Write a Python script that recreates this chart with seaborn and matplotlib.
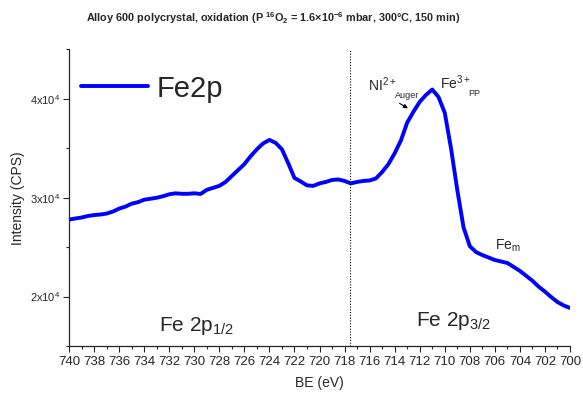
import numpy as np
import pandas as pd
import matplotlib
matplotlib.use("Agg")
import matplotlib.pyplot as plt
from matplotlib.ticker import MultipleLocator, FuncFormatter
import seaborn as sns

# =========================
# DATA
# =========================
be = [740.0, 739.5, 739.0, 738.5, 738.0, 737.5, 737.0, 736.5, 736.0, 735.5,
      735.0, 734.5, 734.0, 733.5, 733.0, 732.5, 732.0, 731.5, 731.0, 730.5,
      730.0, 729.5, 729.0, 728.5, 728.0, 727.5, 727.0, 726.5, 726.0, 725.5,
      725.0, 724.5, 724.0, 723.5, 723.0, 722.5, 722.0, 721.5, 721.0, 720.5,
      720.0, 719.5, 719.0, 718.5, 718.0, 717.5, 717.0, 716.5, 716.0, 715.5,
      715.0, 714.5, 714.0, 713.5, 713.0, 712.5, 712.0, 711.5, 711.0, 710.5,
      710.0, 709.5, 709.0, 708.5, 708.0, 707.5, 707.0, 706.5, 706.0, 705.5,
      705.0, 704.5, 704.0, 703.5, 703.0, 702.5, 702.0, 701.5, 701.0, 700.5,
      700.0]
intensity = [27800, 27900, 28000, 28150, 28250, 28300, 28400, 28600, 28900, 29100,
             29400, 29550, 29800, 29900, 30000, 30150, 30350, 30450, 30400, 30400,
             30450, 30380, 30800, 31000, 31200, 31600, 32200, 32800, 33400, 34200,
             34900, 35500, 35850, 35550, 34900, 33500, 32000, 31650, 31250, 31200,
             31450, 31600, 31800, 31850, 31700, 31450, 31600, 31700, 31750, 31950,
             32600, 33400, 34500, 35800, 37600, 38700, 39700, 40400, 40950, 40200,
             38600, 35000, 30800, 27000, 25100, 24500, 24200, 23950, 23700, 23550,
             23400, 23000, 22600, 22100, 21600, 21000, 20500, 19950, 19450, 19100,
             18850]
split_be = 717.6
x_ticks = list(range(740, 699, -2))
y_ticks = [20000, 30000, 40000]

df = pd.DataFrame({"BE": be, "I": intensity})

# =========================
# STYLE
# =========================
sns.set_style("ticks")
plt.rcParams["font.family"] = ["Liberation Sans", "DejaVu Sans"]
plt.rcParams["mathtext.default"] = "regular"

fig = plt.figure(figsize=(5.83, 4.0), dpi=100)
ax = fig.add_axes([69 / 583, 1 - 346 / 400, (570 - 69) / 583, (346 - 49.5) / 400])

sns.lineplot(data=df, x="BE", y="I", color="#0000FF", linewidth=2.8,
             label="Fe2p", ax=ax, sort=False)
ax.axvline(split_be, color="black", linestyle=(0, (1.0, 1.5)), linewidth=0.8)

ax.set_xlim(740, 700)
ax.set_ylim(15000, 45000)
ax.set_xticks(x_ticks)
ax.xaxis.set_minor_locator(MultipleLocator(1))
ax.set_yticks(y_ticks)
ax.yaxis.set_minor_locator(MultipleLocator(5000))
ax.yaxis.set_major_formatter(FuncFormatter(lambda v, p: "%dx10$^{4}$" % round(v / 10000)))
ax.tick_params(axis="x", which="major", labelsize=9.5, length=4, width=0.8, pad=3)
ax.tick_params(axis="y", which="major", labelsize=8, length=4, width=0.8, pad=2)
ax.tick_params(which="minor", length=2.5, width=0.8)
for s in ["top", "right"]:
    ax.spines[s].set_visible(False)
for s in ["left", "bottom"]:
    ax.spines[s].set_linewidth(0.9)

ax.set_xlabel("BE (eV)", fontsize=10, labelpad=6)
ax.set_ylabel("Intensity (CPS)", fontsize=10, labelpad=4)
fig.suptitle("Alloy 600 polycrystal, oxidation (P $^{16}$O$_2$ = 1.6\u00d710$^{-6}$ mbar, 300\u00b0C, 150 min)",
             fontsize=7.8, fontweight="bold", x=0.468, y=0.975)

ax.legend(loc="upper left", frameon=False, fontsize=21, handlelength=2.3,
          handletextpad=0.3, borderaxespad=0.0, bbox_to_anchor=(0.0, 0.955))

# peak labels
ax.text(729.8, 17000, "Fe 2p$_{1/2}$", fontsize=15, ha="center", va="center")
ax.text(709.3, 17500, "Fe 2p$_{3/2}$", fontsize=15, ha="center", va="center")
ax.text(716.1, 41400, "NI$^{2+}$", fontsize=10, ha="left", va="center")
ax.text(714.0, 40350, "Auger", fontsize=6.5, ha="left", va="center")
ax.annotate("", xy=(712.75, 38900), xytext=(713.8, 39700),
            arrowprops=dict(arrowstyle="-|>", color="black", lw=0.8, mutation_scale=6))
ax.text(710.4, 41600, "Fe$^{3+}$", fontsize=10, ha="left", va="center")
ax.text(708.1, 40550, "PP", fontsize=6.5, ha="left", va="center")
ax.text(706.0, 25100, "Fe$_{m}$", fontsize=10, ha="left", va="center")

fig.savefig("out.png", dpi=100)
